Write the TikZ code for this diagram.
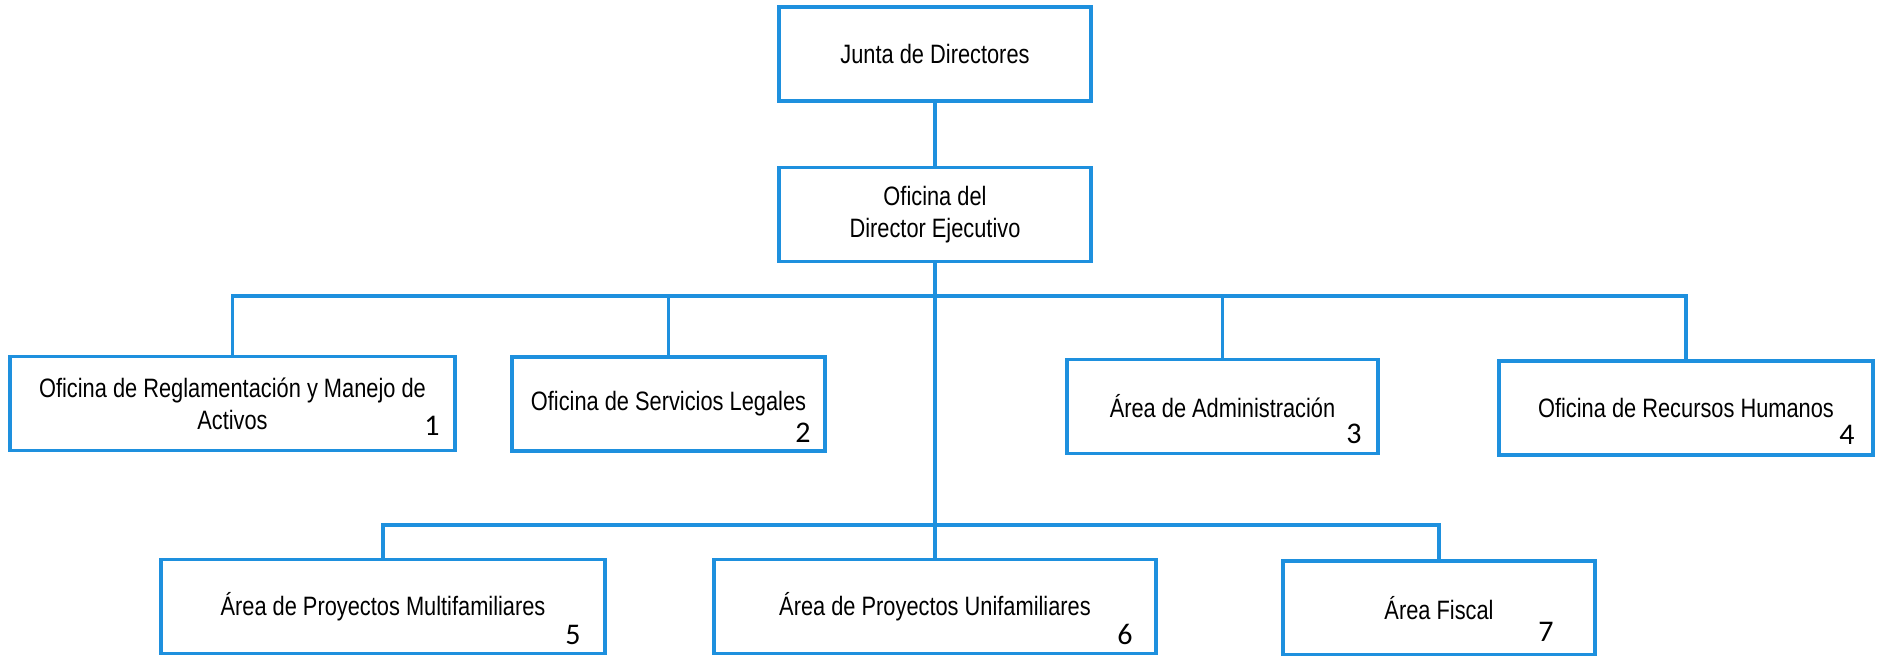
\documentclass[tikz,border=0pt]{standalone}
\usepackage{fontspec}
\setmainfont{Liberation Sans}[FakeStretch=0.82]
\newfontfamily\numfont{Carlito}
\usepackage{xcolor}
\usepackage{tikz}
\definecolor{azul}{RGB}{30,144,222}
\tikzset{
  unidad/.style={rectangle, draw=azul, line width=1.6pt, inner sep=0pt, align=center,
    minimum height=47pt, font=\fontsize{13.3}{16}\selectfont},
  numero/.style={inner sep=0pt, font=\numfont\fontsize{15}{15}\selectfont},
  enlace/.style={draw=azul, line width=1.6pt}
}
\begin{document}
\begin{tikzpicture}[x=0.5pt, y=-0.5pt]
        \useasboundingbox (0, 0) rectangle (1883, 655);
        \node (junta) at (935, 54) [unidad, minimum width=156pt] {Junta de Directores};
        \node (director) at (935, 214.5) [unidad, minimum width=156pt] {Oficina del\\Director Ejecutivo};
        \node (reglamento) at (232.5, 403.5) [unidad, minimum width=222.5pt] {Oficina de Reglamentación y Manejo de\\Activos};
        \node (legales) at (668.5, 404) [unidad, minimum width=156.5pt] {Oficina de Servicios Legales};
        \node (admin) at (1222.5, 406.5) [unidad, minimum width=155.5pt] {Área de Administración};
        \node (humanos) at (1686, 408) [unidad, minimum width=187pt] {Oficina de Recursos Humanos};
        \node (multi) at (383, 606.5) [unidad, minimum width=222pt] {Área de Proyectos Multifamiliares};
        \node (uni) at (935, 606.5) [unidad, minimum width=221pt] {Área de Proyectos Unifamiliares};
        \node (fiscal) at (1439, 608) [unidad, minimum width=156pt] {Área Fiscal};
        \node (n1) at (432, 426) [numero] {1};
        \node (n2) at (803, 433) [numero] {2};
        \node (n3) at (1354, 434) [numero] {3};
        \node (n4) at (1847, 435) [numero] {4};
        \node (n5) at (573, 635) [numero] {5};
        \node (n6) at (1125, 634) [numero] {6};
        \node (n7) at (1546, 632) [numero] {7};
        \coordinate (bus1) at (935, 296);
        \coordinate (bus2) at (935, 525);
        \draw [enlace] (junta) -- (director);
        \draw [enlace] (director) -- (uni);
        \draw [enlace] (reglamento.north) |- (bus1) -| (humanos.north);
        \draw [enlace] (legales.north) -- (legales.north |- bus1);
        \draw [enlace] (admin.north) -- (admin.north |- bus1);
        \draw [enlace] (multi.north) |- (bus2) -| (fiscal.north);
    \end{tikzpicture}
\end{document}
